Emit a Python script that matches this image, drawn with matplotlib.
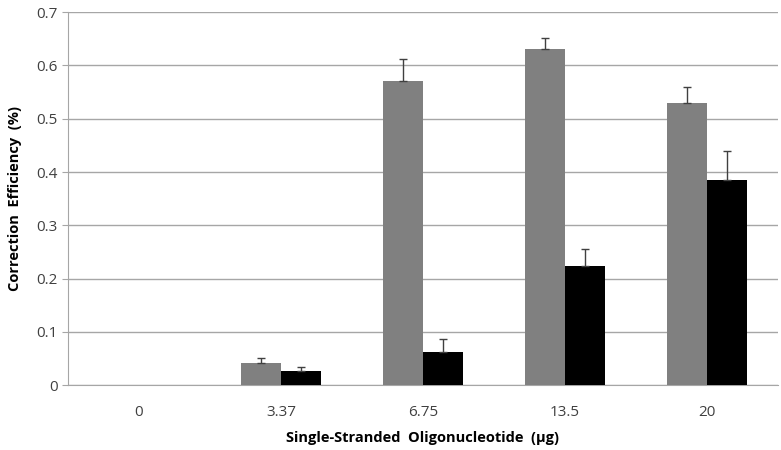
import numpy as np
import matplotlib.pyplot as plt

categories = ['0', '3.37', '6.75', '13.5', '20']
gray_vals = np.array([0.0, 0.041, 0.571, 0.631, 0.530])
gray_err = np.array([np.nan, 0.010, 0.042, 0.021, 0.030])
black_vals = np.array([0.0, 0.027, 0.063, 0.224, 0.385])
black_err = np.array([np.nan, 0.008, 0.024, 0.031, 0.055])

plt.rcParams['font.family'] = ['Open Sans', 'DejaVu Sans']

fig = plt.figure(figsize=(7.81, 4.5), dpi=100)
ax = fig.add_axes([0.087, 0.144, 0.909, 0.829])

x = np.arange(len(categories))
w = 0.28
ekw = dict(ecolor='#404040', elinewidth=1, capsize=3, capthick=1)
ax.bar(x - w / 2, gray_vals, w, color='#808080', zorder=3)
ax.bar(x + w / 2, black_vals, w, color='#000000', zorder=3)

# only upper error bars, skip categories without data
for xs, vals, err in [(x - w / 2, gray_vals, gray_err), (x + w / 2, black_vals, black_err)]:
    m = ~np.isnan(err)
    ax.errorbar(xs[m], vals[m], yerr=[np.zeros(m.sum()), err[m]], fmt='none', zorder=4, **ekw)

ax.set_xlim(-0.5, len(categories) - 0.5)
ax.set_ylim(0, 0.7)
ax.set_yticks(np.arange(0, 0.71, 0.1))
ax.set_yticklabels(['0', '0.1', '0.2', '0.3', '0.4', '0.5', '0.6', '0.7'])
ax.set_xticks(x)
ax.set_xticklabels(categories)
ax.yaxis.grid(True, color='#a6a6a6', linewidth=1, zorder=0)
ax.set_axisbelow(True)

for s in ['top', 'right']:
    ax.spines[s].set_visible(False)
ax.spines['left'].set_color('#a6a6a6')
ax.spines['bottom'].set_color('#a6a6a6')
ax.tick_params(axis='y', length=4, color='#a6a6a6', labelsize=11, labelcolor='#404040')
ax.tick_params(axis='x', length=0, pad=14, labelsize=11, labelcolor='#404040')

ax.set_xlabel('Single-Stranded  Oligonucleotide  (µg)', fontsize=10.5, fontweight='bold', labelpad=8)
ax.set_ylabel('Correction  Efficiency  (%)', fontsize=10.5, fontweight='bold', labelpad=10)

fig.savefig('out.png', dpi=100)
